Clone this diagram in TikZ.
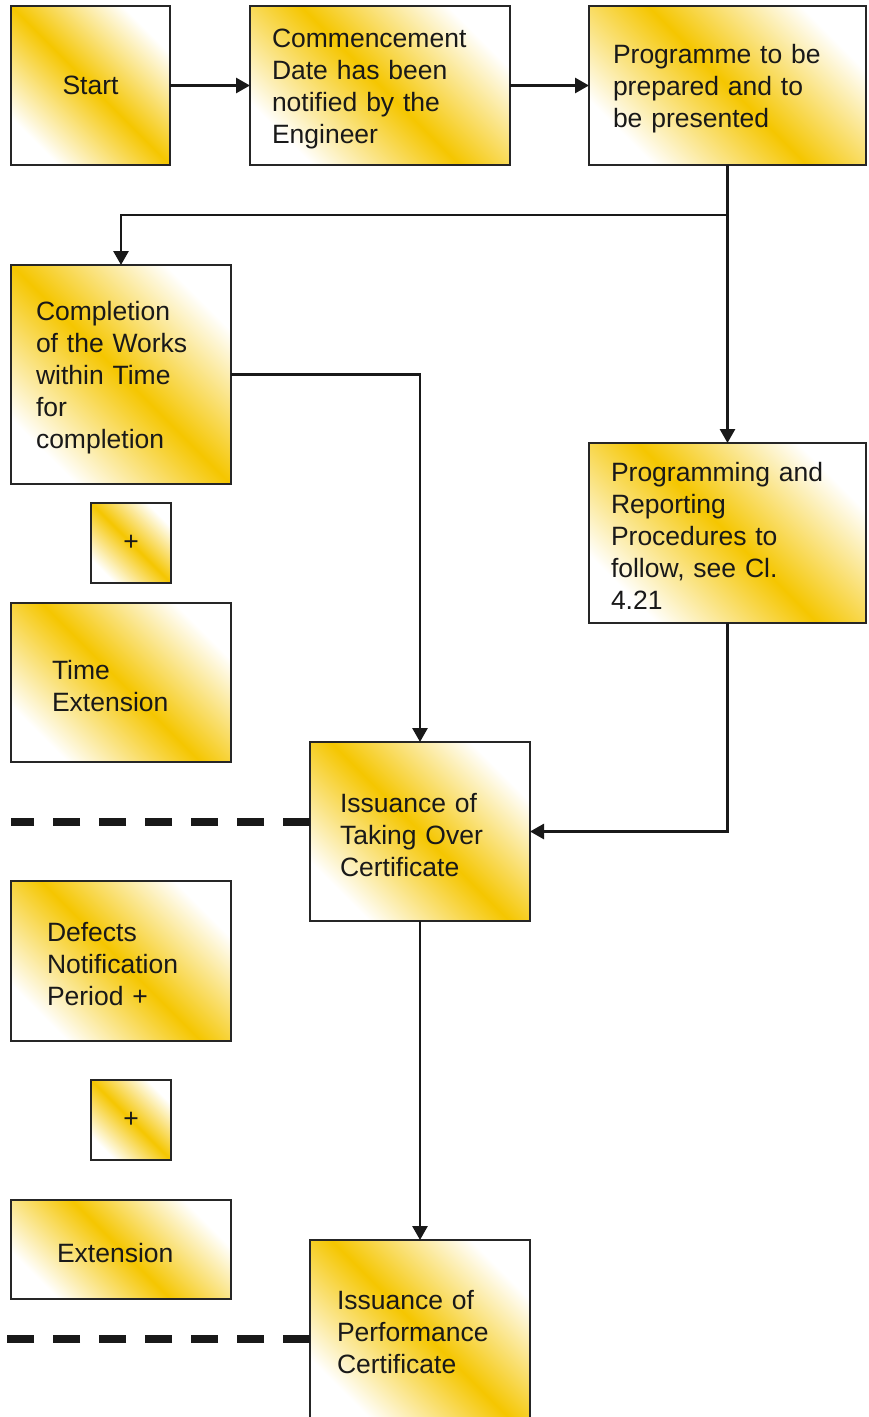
\documentclass[tikz,border=0pt]{standalone}
\usepackage{fontspec}
\setmainfont{Liberation Sans}
\usetikzlibrary{arrows.meta, positioning}
\definecolor{gold}{RGB}{245,198,0}
\tikzstyle{boxbase} = [rectangle, draw=black!85, line width=2pt, outer sep=0pt, left color=white, right color=white, middle color=gold, shading angle=-45, font=\fontsize{26.5}{32}\selectfont, text=black!90]
\tikzstyle{process} = [boxbase, align=left, execute at begin node={\rule{0pt}{25.5pt}}]
\tikzstyle{small} = [boxbase, align=center, minimum size=80pt]
\tikzstyle{arrow} = [line width=2.8pt, black!90, -{Triangle[length=14pt,width=15pt]}]
\tikzstyle{dashline} = [line width=7.5pt, black!90, dash pattern=on 27pt off 19pt]

\begin{document}
\begin{tikzpicture}[x=1pt, y=1pt]
\useasboundingbox (0,0) rectangle (868,-1417);
% Top row
\node (start) [boxbase, minimum width=159pt, minimum height=159pt] at (90.5,-85.5) {Start};
\node (commence) [process, right=80pt of start, minimum width=260pt, minimum height=159pt, inner xsep=22pt, text width=216pt] {Commencement\\Date has been\\notified by the\\Engineer};
\node (programme) [process, right=79pt of commence, minimum width=277pt, minimum height=159pt, inner xsep=24pt, text width=229pt] {Programme to be\\prepared and to\\be presented};
% Left column
\node (completion) [process, below=100pt of start.south west, anchor=north west, minimum width=220pt, minimum height=219pt, inner xsep=25pt, text width=170pt] {Completion\\of the Works\\within Time\\for\\completion};
\node (plusa) [small, below=19pt of completion.south, xshift=10pt] {+};
\node (timeext) [process, below=119pt of completion.south west, anchor=north west, minimum width=220pt, minimum height=159pt, inner xsep=41pt, text width=138pt] {Time\\Extension};
\node (defects) [process, below=119pt of timeext.south west, anchor=north west, minimum width=220pt, minimum height=160pt, inner xsep=36pt, text width=148pt] {Defects\\Notification\\Period +};
\node (plusb) [small, below=39pt of defects.south, xshift=10pt] {+};
\node (extension) [process, below=159pt of defects.south west, anchor=north west, minimum width=220pt, minimum height=99pt, inner xsep=46pt, text width=128pt] {Extension};
% Right column
\node (reporting) [process, below=278pt of programme, minimum width=277pt, minimum height=180pt, inner xsep=22pt, text width=233pt] {Programming and\\Reporting\\Procedures to\\follow, see Cl.\\4.21};
% Middle column
\node (takeover) [process, below right=258pt and 79pt of completion, minimum width=220pt, minimum height=179pt, inner xsep=30pt, text width=160pt] {Issuance of\\Taking Over\\Certificate};
\node (performance) [process, below=319pt of takeover, minimum width=220pt, minimum height=178pt, inner xsep=27pt, text width=166pt] {Issuance of\\Performance\\Certificate};

\coordinate (split) at ([yshift=-50pt]programme.south);
\coordinate (takeoverend) at (11,-822);
\coordinate (performanceend) at (0,-1339);

% Arrows
\draw [arrow] (start) -- (commence);
\draw [arrow] (commence) -- (programme);
\draw [arrow] (programme.south) -- (reporting.north);
\draw [arrow] (split) -| (completion.north);
\draw [arrow] (completion.east) -| (takeover.north);
\draw [arrow] (reporting.south) |- (takeover.east);
\draw [arrow] (takeover) -- (performance);
% Dashed lines
\draw [dashline] (takeoverend -| takeover.west) -- (takeoverend);
\draw [dashline] (performanceend -| performance.west) -- (performanceend);
\end{tikzpicture}
\end{document}
